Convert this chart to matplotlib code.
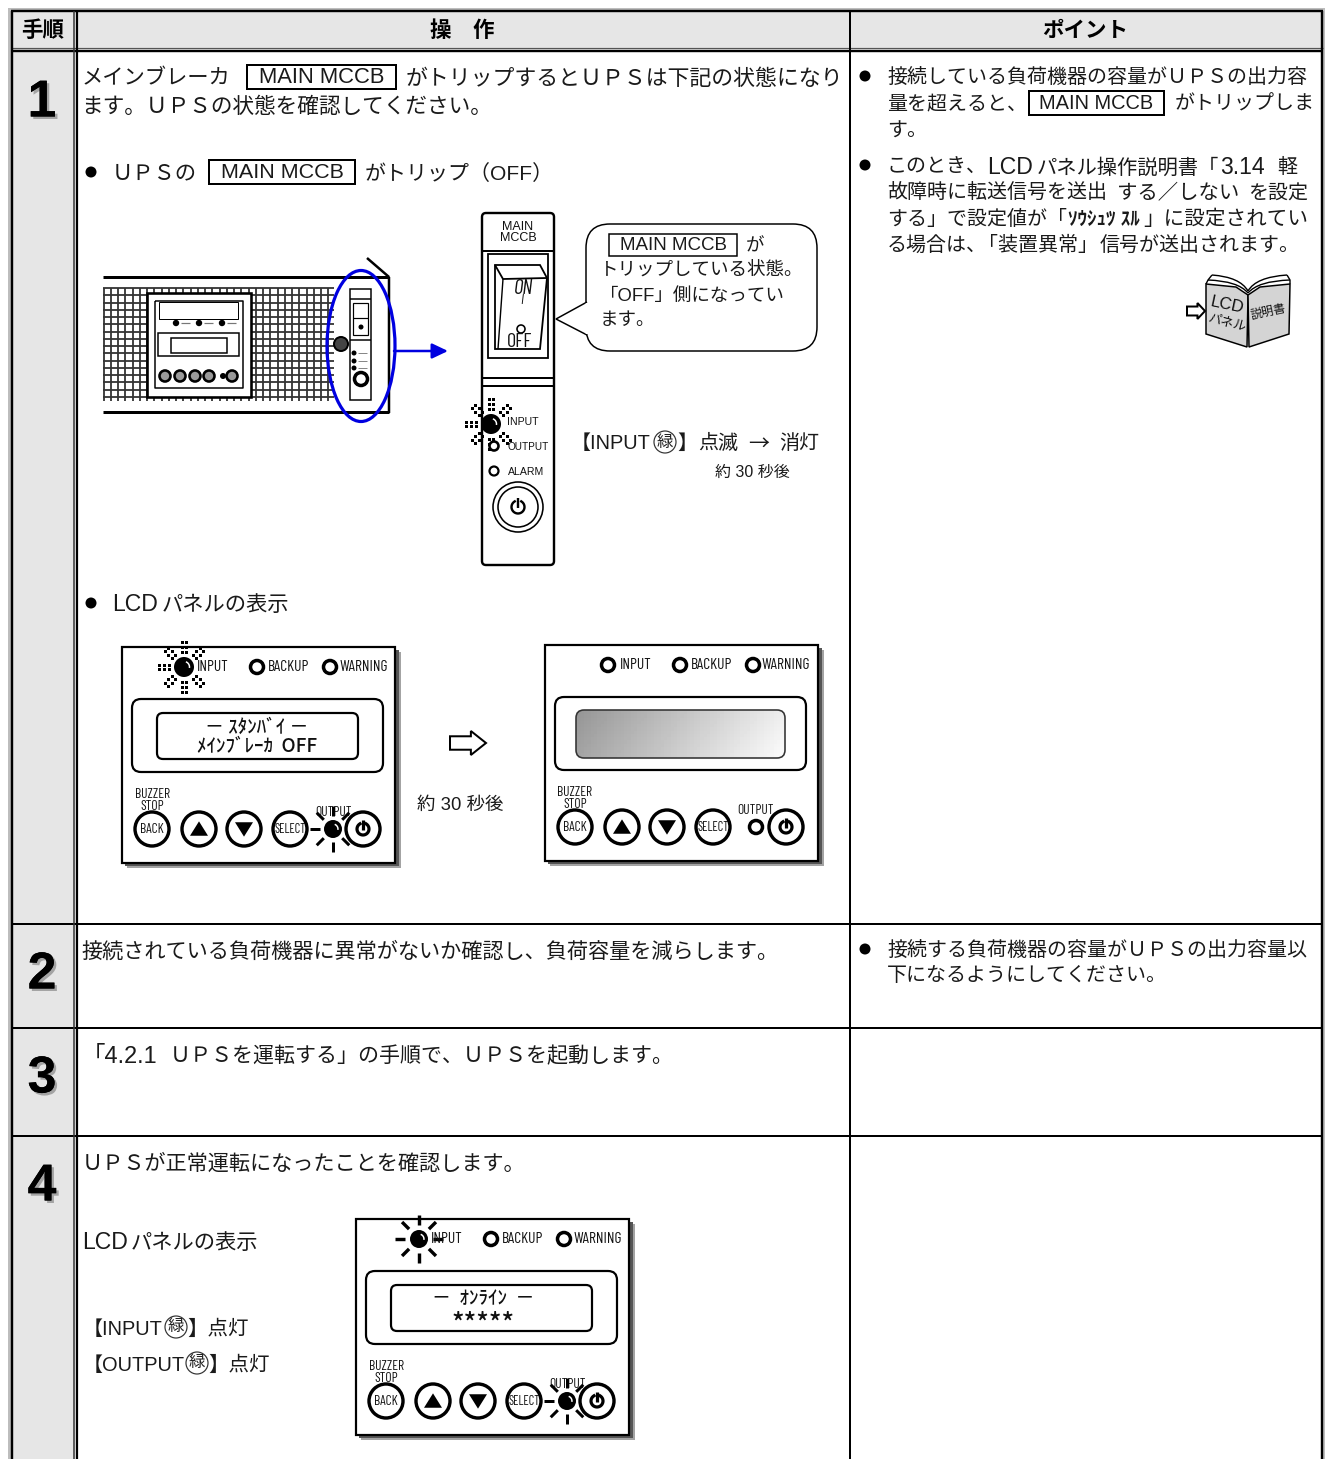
import numpy as np
import matplotlib
matplotlib.use('Agg')
import matplotlib.pyplot as plt
import matplotlib.patheffects as pe
from matplotlib import font_manager
from matplotlib.patches import Rectangle, Circle, Ellipse, FancyBboxPatch, Polygon, PathPatch
from matplotlib.path import Path

plt.rcParams['font.family'] = ['Liberation Sans', 'Noto Sans CJK JP', 'DejaVu Sans']

# table text
HEADERS = ['手順', '操　作', 'ポイント']
STEPS = ['1', '2', '3', '4']
BOX_LABEL = 'MAIN MCCB'
S1_LINE1 = ['メインブレーカ', 'がトリップするとＵＰＳは下記の状態になり']
S1_LINE2 = 'ます。ＵＰＳの状態を確認してください。'
S1_BULLET = ['ＵＰＳの', 'がトリップ（OFF）']
CALLOUT = ['が', 'トリップしている状態。', '「OFF」側になってい', 'ます。']
BLINK = ['【INPUT', '】', '点滅', '→', '消灯']
AFTER_30 = '約 30 秒後'
LCD_TITLE = ['LCD', 'パネルの表示']
S2_TEXT = '接続されている負荷機器に異常がないか確認し、負荷容量を減らします。'
S3_TEXT = ['「4.2.1', 'ＵＰＳを運転する」の手順で、ＵＰＳを起動します。']
S4_TEXT = 'ＵＰＳが正常運転になったことを確認します。'
S4_INPUT = ['【INPUT', '】点灯']
S4_OUTPUT = ['【OUTPUT', '】点灯']
P1_LINES = ['接続している負荷機器の容量がＵＰＳの出力容', '量を超えると、', 'がトリップしま', 'す。']
P2_LINE1 = ['このとき、', 'LCD', 'パネル操作説明書「', '3.14', '軽']
P2_LINE2 = ['故障時に転送信号を送出', 'する／しない', 'を設定']
P2_LINE3 = ['する」で設定値が「', 'ｿｳｼｭﾂ ｽﾙ', '」に設定されてい']
P2_LINE4 = ['る場合は、', '「装置異常」', '信号が送出されます。']
P3_LINES = ['接続する負荷機器の容量がＵＰＳの出力容量以', '下になるようにしてください。']
LCD_STANDBY = ['－ ｽﾀﾝﾊﾞｲ －', 'ﾒｲﾝﾌﾞﾚｰｶ  OFF']
LCD_ONLINE = ['－  ｵﾝﾗｲﾝ  －', '*****']
LED_NAMES = ['INPUT', 'BACKUP', 'WARNING']

fig = plt.figure(figsize=(13.31, 14.59), dpi=100)
ax = fig.add_axes([0, 0, 1, 1])
ax.set_xlim(0, 1331)
ax.set_ylim(1459, 0)
ax.axis('off')

SANS = ['Liberation Sans', 'DejaVu Sans']
CJK = ['Noto Sans CJK JP', 'DejaVu Sans']
# the panel labels are squeezed in the original, use a condensed face when there is one
installed = {f.name for f in font_manager.fontManager.ttflist}
if 'Barlow Condensed' in installed:
    NARROW, NARROW_K = ['Barlow Condensed'] + SANS, 1.0
else:
    NARROW, NARROW_K = SANS, 0.72
INK = '#111111'


def px(n):
    return n * 0.72


def txt(x, y, s, em=21.3, ha='left', **kw):
    # y is the visual centre of the line, em in pixels
    kw.setdefault('color', '#1a1a1a')
    return ax.text(x, y + em * 0.36, s, fontsize=px(em), ha=ha, va='baseline', **kw)


def ntxt(x, y, s, em, ha='center', z=6, **kw):
    ax.text(x, y, s, family=NARROW, fontsize=px(em * NARROW_K), ha=ha, va='center', color=INK, zorder=z, **kw)


def line(xs, ys, w=2, c='black', **kw):
    kw.setdefault('solid_capstyle', 'butt')
    ax.plot(xs, ys, color=c, lw=px(w), **kw)


def rect(x0, y0, x1, y1, w=2, fc='none', ec='black', z=2):
    ax.add_patch(Rectangle((x0, y0), x1 - x0, y1 - y0, fc=fc, ec=ec, lw=px(w), zorder=z))


def rbox(x0, y0, x1, y1, r=6, w=2, fc='white', ec='black', z=2):
    p = FancyBboxPatch((x0, y0), x1 - x0, y1 - y0, boxstyle='round,pad=0,rounding_size=%g' % r,
                       fc=fc, ec=ec, lw=px(w), zorder=z)
    ax.add_patch(p)
    return p


def circ(x, y, r, w=2, fc='white', ec='black', z=3):
    ax.add_patch(Circle((x, y), r, fc=fc, ec=ec, lw=px(w), zorder=z))


def mccb_box(x0, x1, yc, em=21.5, half=12, w=2):
    rect(x0, yc - half, x1, yc + half, w=w, z=3)
    ax.text((x0 + x1) / 2, yc + 0.5, BOX_LABEL, family=SANS, fontsize=px(em), ha='center', va='center',
            color='#1a1a1a', zorder=4)


def bullet(x, y):
    circ(x, y, 5.5, w=0, fc='black')


def midori(x, y, r=11):
    ax.add_patch(Circle((x, y), r, fc='none', ec='#333333', lw=px(1.2)))
    ax.text(x, y, '緑', family=CJK, fontsize=px(r * 1.5), ha='center', va='center', color='#222222')


def rays(x, y, r0, r1, w=3):
    for a in np.arange(0, 360, 45):
        c, s = np.cos(np.radians(a)), np.sin(np.radians(a))
        line([x + r0 * c, x + r1 * c], [y + r0 * s, y + r1 * s], w=w, zorder=4)


def dotted_rays(x, y, r0=15, r1=30, step=5, size=3):
    # no ray to the right, the label sits there
    xs, ys = [], []
    for a in np.arange(45, 360, 45):
        c, s = np.cos(np.radians(a)), np.sin(np.radians(a))
        for r in np.arange(r0, r1, step):
            for off in (-2.4, 2.4):
                xs.append(x + r * c - off * s)
                ys.append(y + r * s + off * c)
    ax.scatter(xs, ys, marker='s', s=(px(size)) ** 2, c='black', linewidths=0, zorder=4)


def led_on(x, y, r=9):
    circ(x, y, r, w=0, fc='black', z=5)
    t = np.radians(np.linspace(-70, 10, 12))
    v = np.column_stack([x + r * 0.55 * np.cos(t), y + r * 0.55 * np.sin(t)])
    ax.add_patch(PathPatch(Path(v), fc='none', ec='white', lw=px(1.5), zorder=6))


def triangle(x, y, up=True, s=9):
    d = 1 if up else -1
    ax.add_patch(Polygon([(x - s, y + d * s * 0.75), (x + s, y + d * s * 0.75), (x, y - d * s * 0.85)],
                         fc='black', ec='black', lw=0, zorder=5))


def power_icon(x, y, r=6, w=3.2):
    t = np.radians(np.linspace(-60, 240, 30))
    ax.plot(x + r * np.cos(t), y + r * np.sin(t), color='black', lw=px(w), zorder=5)
    line([x, x], [y - r - 3, y + 1], w=w, zorder=5)


def lcd_panel(x, y, mode, lcd_lines=None, text_x=135):
    # mode: 'blink' / 'off' / 'lit' state of the INPUT and OUTPUT leds
    ax.add_patch(Rectangle((x + 3, y + 3), 274, 216, fc='#555555', ec='none', zorder=1,
                           path_effects=[pe.withSimplePatchShadow((1.5, -1.5), alpha=0.4)]))
    rect(x, y, x + 273, y + 216, w=2.2, fc='white', z=2)
    # leds and labels
    if mode == 'blink':
        dotted_rays(x + 62, y + 20)
        led_on(x + 62, y + 20, 10)
    elif mode == 'lit':
        rays(x + 63, y + 20, 14, 24, w=3.4)
        led_on(x + 63, y + 20, 9)
    else:
        circ(x + 63, y + 20, 6.5, w=3.5)
    ntxt(x + 75, y + 20, LED_NAMES[0], 15.5, ha='left')
    circ(x + 135, y + 20, 6.5, w=3.5)
    ntxt(x + 146, y + 20, LED_NAMES[1], 15.5, ha='left')
    circ(x + 208, y + 20, 6.5, w=3.5)
    ntxt(x + 217, y + 20, LED_NAMES[2], 15.5, ha='left')
    # display
    rbox(x + 10, y + 52, x + 261, y + 125, r=9, w=2.2)
    if lcd_lines:
        rbox(x + 35, y + 66, x + 236, y + 112, r=6, w=2.2, z=3)
        ax.text(x + text_x, y + 80, lcd_lines[0], family=CJK, fontsize=px(19), ha='center', va='center',
                color=INK, fontweight='medium', zorder=4)
        stars = lcd_lines[1].startswith('*')
        ax.text(x + text_x, y + (105 if stars else 100), lcd_lines[1], family=CJK, fontsize=px(26 if stars else 19),
                ha='center', va='center', color=INK, fontweight='medium', zorder=4)
    else:
        inner = rbox(x + 31, y + 65, x + 240, y + 113, r=8, w=1.6, fc='none', ec='#333333', z=3)
        g = 0.6 + 0.36 * np.linspace(0, 1, 64).reshape(1, -1) + 0.06 * np.linspace(0, 1, 16).reshape(-1, 1)
        im = ax.imshow(g, extent=(x + 29, x + 242, y + 115, y + 63), cmap='gray', vmin=0, vmax=1.03,
                       aspect='auto', zorder=2.5)
        im.set_clip_path(inner)
    # buttons
    by = y + 182
    ntxt(x + 30, y + 148, 'BUZZER', 13.5)
    ntxt(x + 30, y + 159, 'STOP', 13.5)
    for bx in (x + 30, x + 77, x + 122, x + 168):
        circ(bx, by, 17, w=3.4)
    ntxt(x + 30, by + 0.5, 'BACK', 13.5)
    ntxt(x + 168, by + 0.5, 'SELECT', 12.5)
    triangle(x + 77, by, True)
    triangle(x + 122, by, False)
    ntxt(x + 211, y + 166, 'OUTPUT', 13.5, z=3)
    if mode == 'off':
        circ(x + 211, by, 6.5, w=3.5)
    else:
        rays(x + 211, by, 13, 23)
        led_on(x + 211, by, 9)
    circ(x + 241, by, 17, w=3.4, z=4)
    power_icon(x + 241, by)


def draw_table():
    # shaded parts
    ax.add_patch(Rectangle((10, 10), 1312, 39, fc='#e6e6e6', ec='none', zorder=0))
    ax.add_patch(Rectangle((10, 49), 67, 1410, fc='#e6e6e6', ec='none', zorder=0))
    ax.add_patch(Rectangle((8, 8), 1317, 4, fc='#bdbdbd', ec='none', zorder=0))
    ax.add_patch(Rectangle((8, 8), 3, 1451, fc='#bdbdbd', ec='none', zorder=0))
    ax.add_patch(Rectangle((1323, 8), 2, 1451, fc='#bdbdbd', ec='none', zorder=0))
    # horizontals
    line([11, 1323], [11, 11], w=2.4)
    line([11, 1323], [47.5, 47.5], w=1.2, c='#555555')
    line([11, 1323], [51, 51], w=2.4)
    for y in (924, 1028, 1136):
        line([11, 1321], [y, y], w=2)
    # verticals
    line([12, 12], [11, 1459], w=2.4)
    line([73.5, 73.5], [11, 1459], w=1.5, c='#333333')
    line([77, 77], [11, 1459], w=2.2)
    line([850, 850], [11, 1459], w=2)
    line([1322, 1322], [11, 1459], w=2.4)


def draw_headers():
    txt(43, 29, HEADERS[0], em=21.5, ha='center', fontweight='bold', color='black')
    txt(462, 29, HEADERS[1], em=21.5, ha='center', fontweight='bold', color='black')
    txt(1085, 29, HEADERS[2], em=21.5, ha='center', fontweight='bold', color='black')
    shadow = [pe.withSimplePatchShadow(offset=(1.8, -1.8), shadow_rgbFace='#888888', alpha=0.7), pe.Normal()]
    for s, y in zip(STEPS, (103, 975, 1079, 1187)):
        ax.text(42, y, s, family=SANS, fontsize=px(52), fontweight='bold', ha='center', va='center',
                color='black', path_effects=shadow, zorder=3)


def draw_ups_front():
    # grille
    ax.vlines(np.arange(103.5, 335, 7.25), 288, 401, color='#333333', lw=px(1.8), zorder=1.5)
    ax.hlines(np.arange(288, 402, 7.25), 103, 334, color='#333333', lw=px(1.8), zorder=1.5)
    # body
    line([103, 389], [277, 277], w=3)
    line([103, 389], [412, 412], w=3)
    line([389, 389], [277, 413], w=2.5)
    line([367, 389], [258, 277], w=2.5)
    # mini panel
    rect(147, 293, 251, 397, w=2.6, fc='white', z=2)
    line([155, 243, 243, 155, 155], [301, 301, 388, 388, 301], w=1.5, zorder=3)
    rect(159, 302, 238, 319, w=1, z=3)
    for x in (176, 199, 222):
        circ(x, 323, 3.2, w=0, fc='black')
        line([x + 5, x + 14], [323, 323], w=1.2, c='#777777', zorder=3)
    rect(158, 333, 239, 356, w=1.5, z=3)
    rect(171, 338, 227, 353, w=1.5, z=3)
    for x in (165, 180, 195, 209, 232):
        circ(x, 376, 5.5, w=2.6, fc='#999999')
    circ(223, 376, 3, w=0, fc='black')
    # screw and small breaker panel
    circ(341, 344, 7, w=2, fc='#444444')
    rect(350, 289, 371, 400, w=1.5, fc='white', z=2)
    line([350, 371], [299, 299], w=1.5, zorder=3)
    rect(353, 303, 368, 335, w=1.2, z=3)
    line([353, 368], [318, 318], w=1.2, zorder=3)
    circ(361, 327, 2.5, w=0, fc='black')
    line([350, 371], [340, 340], w=1.5, zorder=3)
    for y in (353, 361, 368):
        circ(354, y, 2.5, w=0, fc='black')
        line([358, 367], [y, y], w=1, c='#888888', zorder=3)
    circ(361, 379, 6.5, w=3.5)
    # highlight
    ax.add_patch(Ellipse((361, 346), 68, 151, fc='none', ec='#0000e0', lw=px(3.2), zorder=6))
    ax.annotate('', xy=(448, 351), xytext=(394, 351), zorder=6,
                arrowprops=dict(arrowstyle='-|>,head_length=0.8,head_width=0.38', mutation_scale=12, color='#0000e0',
                                lw=px(2.5), shrinkA=0, shrinkB=0))


def draw_breaker():
    rbox(482, 213, 554, 565, r=4, w=2.4, fc='white')
    ax.text(518, 227, 'MAIN', family=SANS, fontsize=px(12.5), ha='center', va='center', color=INK, zorder=3)
    ax.text(518, 238, 'MCCB', family=SANS, fontsize=px(12.5), ha='center', va='center', color=INK, zorder=3)
    line([482, 554], [251, 251], w=2, zorder=3)
    rect(488, 254, 548, 358, w=1.8, z=3)
    ax.add_patch(Polygon([(495, 265), (495, 349), (540, 349), (547, 278), (540, 265)], fc='white', ec='black',
                         lw=px(1.8), zorder=3))
    line([495, 503, 547], [265, 279, 278], w=1.8, zorder=3)
    line([503, 498], [279, 349], w=1.4, zorder=3)
    ntxt(524, 288, 'ON', 21, style='italic', z=4)
    ntxt(522, 300, 'I', 14, style='italic', z=4)
    circ(521, 329, 4, w=1.6, z=4)
    ntxt(520, 342, 'OFF', 20, z=4)
    line([482, 554], [378, 378], w=2, zorder=3)
    line([482, 554], [386, 386], w=2, zorder=3)
    dotted_rays(491, 424)
    led_on(491, 424, 10)
    ax.text(507, 422, 'INPUT', family=SANS, fontsize=px(10.5), ha='left', va='center', color=INK, zorder=6)
    circ(494, 446, 4.5, w=2.6, z=5)
    ax.text(507, 447, 'OUTPUT', family=SANS, fontsize=px(10), ha='left', va='center', color=INK, zorder=6)
    circ(494, 471, 4.5, w=2.2)
    ax.text(508, 472, 'ALARM', family=SANS, fontsize=px(10.5), ha='left', va='center', color=INK)
    circ(518, 507, 25, w=1.6)
    circ(518, 507, 20, w=1.6)
    power_icon(518, 507, r=6.5, w=2.4)


def draw_callout():
    rbox(586, 224, 817, 351, r=24, w=1.5)
    ax.add_patch(Polygon([(587, 302), (556, 319), (587, 335)], closed=False, fc='white', ec='black', lw=px(1.5), zorder=3))
    line([587, 587], [303, 334], w=2.5, c='white', zorder=3)
    mccb_box(609, 737, 245, em=18.8, half=11, w=1.5)
    txt(746, 245, CALLOUT[0], em=18.5)
    txt(600, 269, CALLOUT[1], em=18.5)
    txt(600, 294, CALLOUT[2], em=18.5)
    txt(600, 318, CALLOUT[3], em=18.5)


def hollow_arrow(x, y, w, h, lw=2):
    # x,y is the left middle
    body = h * 0.28
    head = w * 0.42
    ax.add_patch(Polygon([(x, y - body), (x + w - head, y - body), (x + w - head, y - h / 2), (x + w, y),
                          (x + w - head, y + h / 2), (x + w - head, y + body), (x, y + body)],
                         fc='white', ec='black', lw=px(lw), zorder=3))


def curve(p0, c, p1, w=1.4, z=2):
    ax.add_patch(PathPatch(Path([p0, c, p1], [Path.MOVETO, Path.CURVE3, Path.CURVE3]), fc='none', ec='black',
                           lw=px(w), zorder=z))


def draw_book():
    ax.add_patch(Polygon([(1208, 281), (1212, 275), (1248, 288), (1287, 275), (1290, 281), (1290, 334), (1248, 348),
                          (1206, 334)], fc='white', ec='none', zorder=1.5))
    # page stack
    curve((1212, 275), (1240, 277), (1248, 291))
    curve((1287, 275), (1256, 277), (1248, 291))
    curve((1208, 280), (1238, 281), (1248, 293))
    curve((1290, 280), (1258, 281), (1248, 293))
    line([1212, 1208, 1206], [275, 280, 284], w=1.4, zorder=2)
    line([1287, 1290, 1290], [275, 280, 284], w=1.4, zorder=2)
    # pages
    left = [(1206, 284), (1236, 287), (1248, 295), (1247, 347), (1206, 334)]
    right = [(1248, 295), (1260, 287), (1290, 284), (1289, 334), (1249, 347)]
    ax.add_patch(Polygon(left, fc='#d4d4d4', ec='black', lw=px(1.5), zorder=3))
    ax.add_patch(Polygon(right, fc='#d4d4d4', ec='black', lw=px(1.5), zorder=3))
    ax.text(1227, 305, 'LCD', family=SANS, fontsize=px(17), rotation=-12, ha='center', va='center', color=INK, zorder=4)
    ax.text(1227, 322, 'パネル', family=CJK, fontsize=px(13), rotation=-15, ha='center', va='center',
            color=INK, zorder=4)
    ax.text(1268, 312, '説明書', family=CJK, fontsize=px(12), rotation=12, ha='center', va='center',
            color=INK, zorder=4)
    hollow_arrow(1187, 311, 18, 16)


draw_table()
draw_headers()

# step 1 main column
txt(81.5, 77, S1_LINE1[0])
mccb_box(247, 396, 77, em=22)
txt(406, 77, S1_LINE1[1], em=21.9)
txt(81.5, 105, S1_LINE2, em=21.7)
bullet(91, 172)
txt(112, 172, S1_BULLET[0])
mccb_box(209, 355, 172, em=21.5)
txt(365, 172, S1_BULLET[1], em=21)
draw_ups_front()
draw_breaker()
draw_callout()
txt(571, 442, BLINK[0], em=20)
midori(665, 442)
txt(677, 442, BLINK[1], em=20)
txt(698, 442, BLINK[2], em=20)
txt(748, 442, BLINK[3], em=21, family=CJK)
txt(779, 442, BLINK[4], em=20)
txt(715, 471, AFTER_30, em=16)
bullet(91, 603)
txt(112, 603, LCD_TITLE[0], em=23)
txt(162, 603, LCD_TITLE[1], em=21.3)
lcd_panel(122, 647, 'blink', LCD_STANDBY)
lcd_panel(545, 645, 'off')
hollow_arrow(450, 743, 36, 24)
txt(417, 803, AFTER_30, em=18.5)

# steps 2-4 main column
txt(81.5, 950, S2_TEXT, em=21.2)
txt(81.5, 1055, S3_TEXT[0], em=23.5)
txt(170, 1055, S3_TEXT[1], em=21)
txt(81.5, 1162, S4_TEXT, em=21.2)
txt(82, 1241, LCD_TITLE[0], em=23)
txt(131, 1241, LCD_TITLE[1], em=21.3)
txt(83, 1328, S4_INPUT[0], em=20)
midori(176, 1327)
txt(187, 1328, S4_INPUT[1], em=20.5)
txt(83, 1364, S4_OUTPUT[0], em=20)
midori(197, 1363)
txt(208, 1364, S4_OUTPUT[1], em=20.5)
lcd_panel(356, 1219, 'lit', LCD_ONLINE, text_x=127)

# points column
bullet(865, 76)
txt(887, 77, P1_LINES[0], em=20)
txt(887, 102, P1_LINES[1], em=20)
mccb_box(1029, 1164, 103, em=20)
txt(1175, 102, P1_LINES[2], em=20)
txt(887, 129, P1_LINES[3], em=20)
bullet(865, 165)
for s, x, em in zip(P2_LINE1, (887, 987, 1037, 1220, 1277), (20, 23, 20.3, 23, 20)):
    txt(x, 166, s, em=em)
for s, x in zip(P2_LINE2, (887, 1117, 1248)):
    txt(x, 192, s, em=20.4 if x == 1117 else 20)
txt(887, 218, P2_LINE3[0], em=20)
txt(1068, 218, P2_LINE3[1], em=19, fontweight='bold')
txt(1143, 218, P2_LINE3[2], em=20.6)
for s, x in zip(P2_LINE4, (887, 978, 1100)):
    txt(x, 244, s, em=20)
draw_book()
bullet(865, 949)
txt(887, 950, P3_LINES[0], em=20)
txt(887, 974, P3_LINES[1], em=20)

fig.savefig('out.png', dpi=100, facecolor='white')
